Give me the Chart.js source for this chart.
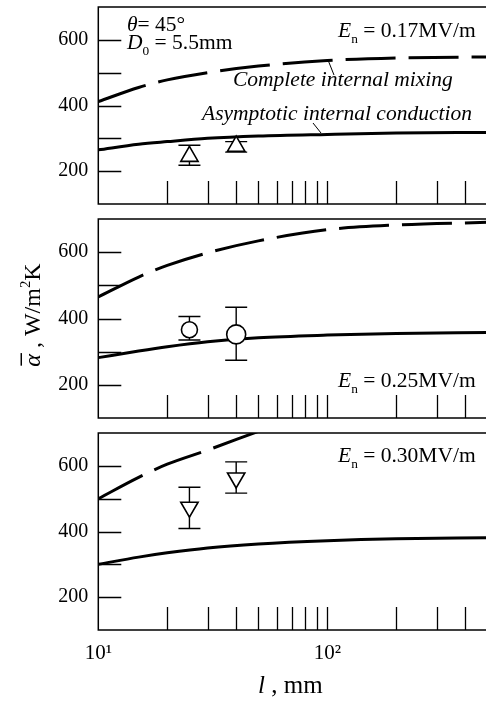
<!DOCTYPE html>
<html>
<head>
<meta charset="utf-8">
<script src="https://cdn.jsdelivr.net/npm/chart.js@4.4.0/dist/chart.umd.min.js"></script>
<style>
  body { margin: 0; background: #fff; overflow: hidden; width: 486px; height: 707px; }
  canvas { position: absolute; left: 0; }
</style>
</head>
<body>
<canvas id="c1" width="490" height="212" style="top:0px"></canvas>
<canvas id="c2" width="490" height="212" style="top:212px"></canvas>
<canvas id="c3" width="490" height="283" style="top:424px"></canvas>
<script>
// x ticks (mm) and y ticks
const xTicks = [10, 20, 30, 40, 50, 60, 70, 80, 90, 100, 200, 300, 400, 500];
const yTicks = [100, 200, 300, 400, 500, 600, 700];

// model curves, l in mm
const curveL = [10, 15, 20, 30, 50, 100, 200, 500];
const mixing017 = [412, 455, 478, 500, 520, 537, 545, 548];
const conduct017 = [265, 282, 290, 300, 307, 312, 316, 318];
const mixing025 = [465, 525, 560, 598, 634, 668, 682, 690];
const conduct025 = [282, 302, 315, 330, 342, 350, 355, 358];
const mixing030L = [10, 15, 20, 30, 50, 60];
const mixing030 = [500, 565, 605, 648, 705, 725];
const conduct030 = [300, 322, 335, 350, 362, 372, 378, 381];

// measurements
const expL = [25, 40];
const exp017 = [245, 276], exp017Lo = [218, 258], exp017Hi = [279, 290];
const exp025 = [366, 352], exp025Lo = [335, 274], exp025Hi = [406, 434];
const exp030 = [474, 563], exp030Lo = [409, 517], exp030Hi = [535, 612];

const FONT = '"Liberation Serif", "Times New Roman", serif';
const TXT = 21.5;
const pts = (xs, ys) => xs.map((x, i) => ({ x: x, y: ys[i] }));

function richText(ctx, x, y, parts, size) {
  let cx = x;
  parts.forEach(p => {
    const s = (p.sub || p.sup) ? size * 0.62 : size;
    ctx.font = (p.it ? 'italic ' : '') + s + 'px ' + FONT;
    const dy = p.sub ? size * 0.28 : p.sup ? -size * 0.4 : 0;
    ctx.fillText(p.t, cx, y + dy);
    if (p.bar) {
      const w = ctx.measureText(p.t).width;
      ctx.save();
      ctx.lineWidth = 1.5;
      ctx.beginPath();
      ctx.moveTo(cx + 1, y - size * 0.78);
      ctx.lineTo(cx + w + 1, y - size * 0.78);
      ctx.stroke();
      ctx.restore();
    }
    cx += ctx.measureText(p.t).width;
  });
  return cx - x;
}
function richWidth(ctx, parts, size) {
  let w = 0;
  parts.forEach(p => {
    const s = (p.sub || p.sup) ? size * 0.62 : size;
    ctx.font = (p.it ? 'italic ' : '') + s + 'px ' + FONT;
    w += ctx.measureText(p.t).width;
  });
  return w;
}

const decor = {
  id: 'decor',
  beforeDatasetsDraw(chart, args, opts) {
    const ctx = chart.ctx, ys = chart.scales.y;
    ctx.save();
    ctx.strokeStyle = '#000';
    ctx.lineWidth = 1.4;
    chart.data.datasets.forEach((ds, di) => {
      if (!ds.errLo) return;
      const meta = chart.getDatasetMeta(di);
      meta.data.forEach((el, i) => {
        const lo = ys.getPixelForValue(ds.errLo[i]);
        const hi = ys.getPixelForValue(ds.errHi[i]);
        ctx.beginPath();
        ctx.moveTo(el.x, lo); ctx.lineTo(el.x, hi);
        ctx.moveTo(el.x - 11, lo); ctx.lineTo(el.x + 11, lo);
        ctx.moveTo(el.x - 11, hi); ctx.lineTo(el.x + 11, hi);
        ctx.stroke();
      });
    });
    ctx.restore();
  },
  afterDraw(chart, args, opts) {
    const ctx = chart.ctx, a = chart.chartArea;
    const xs = chart.scales.x, ys = chart.scales.y;
    ctx.save();
    ctx.strokeStyle = '#000';
    ctx.lineWidth = 1.5;
    ctx.strokeRect(a.left, a.top, a.right - a.left, a.bottom - a.top);
    ctx.lineWidth = 1.3;
    ctx.beginPath();
    xTicks.slice(1, -1).forEach(v => {
      const px = Math.round(xs.getPixelForValue(v)) + 0.5;
      ctx.moveTo(px, a.bottom); ctx.lineTo(px, a.bottom - 23);
    });
    yTicks.slice(1, -1).forEach(v => {
      const py = Math.round(ys.getPixelForValue(v)) + 0.5;
      ctx.moveTo(a.left, py); ctx.lineTo(a.left + 23, py);
    });
    ctx.stroke();
    ctx.fillStyle = '#000';
    ctx.textBaseline = 'alphabetic';
    ctx.textAlign = 'left';
    (opts.texts || []).forEach(t => {
      richText(ctx, t.x, t.y, t.parts, t.size);
    });
    (opts.leaders || []).forEach(l => {
      ctx.lineWidth = 1;
      ctx.beginPath();
      ctx.moveTo(l[0], l[1]); ctx.lineTo(l[2], l[3]);
      ctx.stroke();
    });
    if (opts.yTitle) {
      const t = opts.yTitle;
      ctx.translate(t.x, t.y);
      ctx.rotate(-Math.PI / 2);
      const w = richWidth(ctx, t.parts, t.size);
      richText(ctx, -w / 2, 0, t.parts, t.size);
    }
    ctx.restore();
  }
};

function makeChart(id, datasets, cfg) {
  return new Chart(document.getElementById(id), {
    type: 'scatter',
    data: { datasets: datasets },
    options: {
      responsive: false,
      animation: false,
      devicePixelRatio: 1,
      layout: { autoPadding: false, padding: { top: cfg.top, right: 2.6, left: 0, bottom: 0 } },
      plugins: { legend: { display: false }, tooltip: { enabled: false }, decor: cfg.decor },
      scales: {
        x: {
          type: 'logarithmic', min: 10, max: 500,
          afterBuildTicks: s => { s.ticks = xTicks.map(v => ({ value: v })); },
          afterFit: s => { s.height = cfg.xHeight; s.paddingLeft = 0; s.paddingRight = 0; },
          grid: { display: false, drawTicks: false },
          border: { display: false },
          ticks: {
            display: !!cfg.xLabels, padding: 11, autoSkip: false, maxRotation: 0,
            color: '#000', font: { family: FONT, size: 21 },
            callback: v => v === 10 ? '10¹' : v === 100 ? '10²' : ''
          }
        },
        y: {
          min: 100, max: 700,
          afterBuildTicks: s => { s.ticks = yTicks.map(v => ({ value: v })); },
          afterFit: s => { s.width = 98.3; s.paddingTop = 0; s.paddingBottom = 0; },
          grid: { display: false, drawTicks: false },
          border: { display: false },
          ticks: {
            padding: 10, color: '#000', font: { family: FONT, size: 20 },
            callback: v => (v % 200 === 0 && v > 100 && v < 700) ? String(v) : ''
          }
        }
      }
    },
    plugins: [decor]
  });
}

function lineSets(markers, style, lo, hi, mixXs, mixYs, condYs, radius) {
  return [
    {
      data: pts(expL, markers), errLo: lo, errHi: hi,
      pointStyle: style.shape, rotation: style.rot, pointRadius: radius,
      pointBackgroundColor: '#fff', pointBorderColor: '#000', pointBorderWidth: 1.6,
      showLine: false
    },
    {
      data: pts(mixXs, mixYs), showLine: true, pointRadius: 0,
      borderColor: '#000', borderWidth: 3, borderDash: [50, 13],
      cubicInterpolationMode: 'monotone', clip: 0
    },
    {
      data: pts(curveL, condYs), showLine: true, pointRadius: 0,
      borderColor: '#000', borderWidth: 3,
      cubicInterpolationMode: 'monotone', clip: 0
    }
  ];
}

const enParts = v => [{ t: 'E', it: 1 }, { t: 'n', sub: 1 }, { t: ' = ' + v + 'MV/m' }];

makeChart('c1',
  lineSets(exp017, { shape: 'triangle', rot: 0 }, exp017Lo, exp017Hi, curveL, mixing017, conduct017, 10),
  {
    top: 7, xHeight: 8,
    decor: {
      texts: [
        { x: 127, y: 31, size: TXT, parts: [{ t: 'θ', it: 1 }, { t: '= 45°' }] },
        { x: 127, y: 49, size: TXT, parts: [{ t: 'D', it: 1 }, { t: '0', sub: 1 }, { t: ' = 5.5mm' }] },
        { x: 338, y: 37, size: TXT, parts: enParts('0.17') },
        { x: 233, y: 86, size: TXT, parts: [{ t: 'Complete internal mixing', it: 1 }] },
        { x: 202, y: 120, size: TXT, parts: [{ t: 'Asymptotic internal conduction', it: 1 }] }
      ],
      leaders: [[328, 60, 334, 75], [313, 123, 321, 133]]
    }
  });

makeChart('c2',
  lineSets(exp025, { shape: 'circle', rot: 0 }, exp025Lo, exp025Hi, curveL, mixing025, conduct025, [8, 9.5]),
  {
    top: 7, xHeight: 6,
    decor: {
      texts: [{ x: 338, y: 175, size: TXT, parts: enParts('0.25') }],
      yTitle: { x: 40, y: 103, size: 24, parts: [{ t: 'α', it: 1, bar: 1 }, { t: ' , W/m' }, { t: '2', sup: 1 }, { t: 'K' }] }
    }
  });

makeChart('c3',
  lineSets(exp030, { shape: 'triangle', rot: 180 }, exp030Lo, exp030Hi, mixing030L, mixing030, conduct030, 10),
  {
    top: 9, xHeight: 77, xLabels: true,
    decor: {
      texts: [
        { x: 338, y: 38, size: TXT, parts: enParts('0.30') },
        { x: 258, y: 269, size: 25, parts: [{ t: 'l', it: 1 }, { t: ' , mm' }] }
      ]
    }
  });
</script>
</body>
</html>
